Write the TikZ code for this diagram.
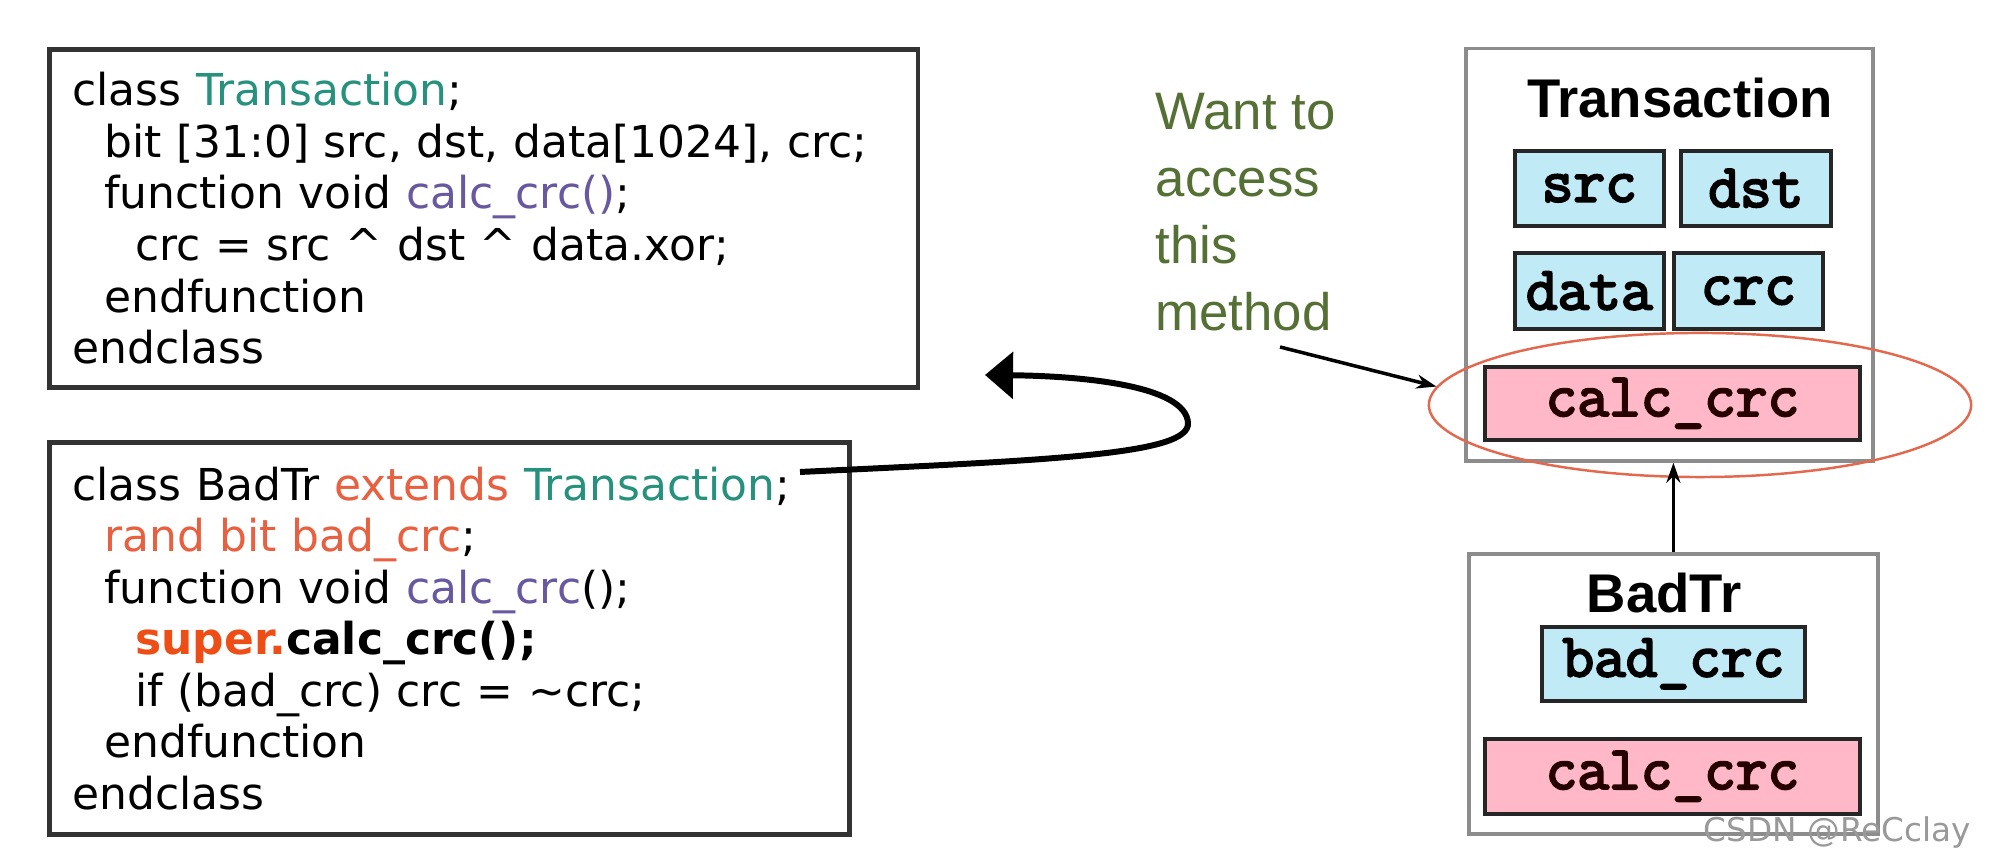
\documentclass[tikz,border=0pt]{standalone}
\usepackage{fontspec}
\usetikzlibrary{arrows.meta,shapes.geometric}

\newfontfamily\codefont{DejaVu Sans}
\newfontfamily\notefont{Liberation Sans}
\newfontfamily\fieldfont[FakeBold=3.5]{Latin Modern Mono}

\definecolor{trteal}{RGB}{38,146,126}
\definecolor{kworange}{RGB}{232,96,64}
\definecolor{superred}{RGB}{238,78,22}
\definecolor{fnpurple}{RGB}{104,88,160}
\definecolor{noteolive}{RGB}{84,112,52}
\definecolor{fieldblue}{RGB}{192,234,246}
\definecolor{methodpink}{RGB}{255,184,200}
\definecolor{ringred}{RGB}{226,104,78}
\definecolor{boxgray}{RGB}{140,140,140}

\tikzset{
  codebox/.style={draw=black!80, line width=1.3pt, anchor=north west, align=left,
    inner xsep=0.23cm, font=\codefont\fontsize{12.5}{14.66}\selectfont},
  classbox/.style={draw=boxgray, line width=1pt, anchor=north west, inner sep=0pt},
  classname/.style={font=\notefont\bfseries\fontsize{15.5}{18}\selectfont},
  memberbox/.style={draw=black!85, line width=1pt, anchor=north west, inner sep=0pt,
    font=\fieldfont\fontsize{17.5}{20}\selectfont},
  fieldbox/.style={memberbox, fill=fieldblue},
  methodbox/.style={memberbox, fill=methodpink, text=black!85!red},
  thinarrow/.style={-{Stealth[length=0.2cm, width=0.14cm]}, line width=1pt},
}

\begin{document}
\begin{tikzpicture}[x=0.01cm, y=-0.01cm]

\useasboundingbox (0,0) rectangle (2000,868);
\fill[white] (0,0) rectangle (2000,868);

% Code of the base class
\node[codebox, minimum width=8.68cm, minimum height=3.38cm, text width=8.22cm]
  (trcode) at (47,47) {%
class \textcolor{trteal}{Transaction};\\
\hspace*{0.32cm}bit [31:0] src, dst, data[1024], crc;\\
\hspace*{0.32cm}function void \textcolor{fnpurple}{calc\_crc()};\\
\hspace*{0.63cm}crc = src \textasciicircum{} dst \textasciicircum{} data.xor;\\
\hspace*{0.32cm}endfunction\\
endclass};

% Code of the derived class
\node[codebox, minimum width=8.00cm, minimum height=3.92cm, text width=7.54cm]
  (badcode) at (47,440) {%
class BadTr \textcolor{kworange}{extends} \textcolor{trteal}{Transaction};\\
\hspace*{0.32cm}\textcolor{kworange}{rand bit bad\_crc};\\
\hspace*{0.32cm}function void \textcolor{fnpurple}{calc\_crc}();\\
\hspace*{0.63cm}\textbf{\textcolor{superred}{super.}calc\_crc();}\\
\hspace*{0.63cm}if (bad\_crc) crc = \textasciitilde crc;\\
\hspace*{0.32cm}endfunction\\
endclass};

% Loop from extends back to the base class
\coordinate (loopstart) at (800,472);
\coordinate (looptip) at (985,375);
\draw[-{Triangle[length=0.28cm, width=0.46cm]}, line width=1.7pt]
  (loopstart) .. controls (1050,460) and (1190,455) .. (1188,423)
  .. controls (1186,385) and (1080,376) .. (looptip);

% Transaction object
\node[classbox, minimum width=4.07cm, minimum height=4.12cm] (trans) at (1464,47) {};
\node[classname] (trtitle) at (1680,98) {Transaction};
\node[fieldbox, minimum width=1.49cm, minimum height=0.75cm] (src) at (1513,149) {src};
\node[fieldbox, minimum width=1.50cm, minimum height=0.75cm] (dst) at (1679,149) {dst};
\node[fieldbox, minimum width=1.49cm, minimum height=0.76cm] (data) at (1513,251) {data};
\node[fieldbox, minimum width=1.49cm, minimum height=0.76cm] (crc) at (1672,251) {crc};
\node[methodbox, minimum width=3.75cm, minimum height=0.73cm] (trcalc) at (1483,365) {calc\_crc};

% Highlight ring
\node[ellipse, draw=ringred, line width=0.7pt, minimum width=5.42cm, minimum height=1.44cm,
  inner sep=0pt] (hilite) at (1700,405) {};

% Note
\node[anchor=north west, align=left, inner sep=0pt, text=noteolive,
  font=\notefont\fontsize{15}{19}\selectfont] (wantnote) at (1155,93)
  {Want to\\access\\this\\method};
\coordinate (methodtail) at (1280,347);
\draw[thinarrow] (methodtail) -- (hilite.176);

% BadTr object
\node[classbox, minimum width=4.09cm, minimum height=2.80cm] (badtr) at (1467,552) {};
\node[classname] (bdtitle) at (1664,593) {BadTr};
\node[fieldbox, minimum width=2.63cm, minimum height=0.74cm] (badcrc) at (1540,625) {bad\_crc};
\node[methodbox, minimum width=3.75cm, minimum height=0.75cm] (bdcalc) at (1483,737) {calc\_crc};

% Inheritance
\draw[thinarrow] (badtr.north) -- (badtr.north |- trans.south);

% Watermark
\node[anchor=base west, inner sep=0pt, text=black!40, font=\codefont\fontsize{9.3}{11}\selectfont]
  (mark) at (1703,842) {CSDN @ReCclay};

\end{tikzpicture}
\end{document}
